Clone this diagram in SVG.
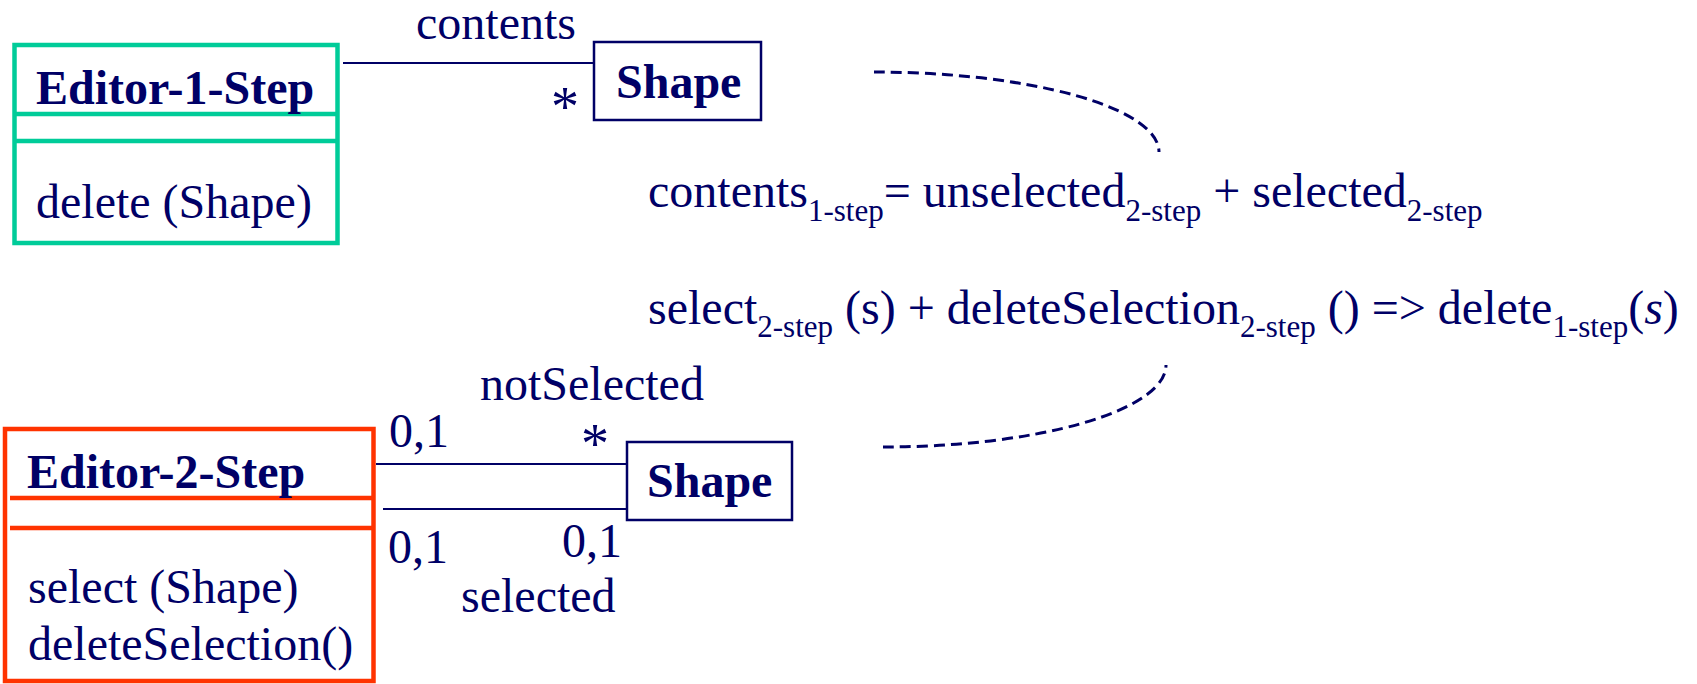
<svg xmlns="http://www.w3.org/2000/svg" width="1697" height="684" viewBox="0 0 1697 684">
  <style>
    text { font-family: "Liberation Serif", "Times New Roman", serif; font-size: 48px; fill: #000066; }
    .bold { font-weight: bold; }
    .sub { font-size: 31px; }
    .cls1 { fill: #ffffff; stroke: #00CC99; stroke-width: 4.5; }
    .cls1 line { stroke: #00CC99; stroke-width: 4.5; }
    .cls2 { fill: #ffffff; stroke: #FF3300; stroke-width: 4.5; }
    .cls2line { stroke: #FF3300; stroke-width: 4.5; }
    .shape { fill: #ffffff; stroke: #000066; stroke-width: 2.5; }
    .assoc { stroke: #000066; stroke-width: 2.2; fill: none; }
    .dash { stroke: #000066; stroke-width: 3; fill: none; stroke-dasharray: 11 6; }
    .star { font-size: 56px; }
  </style>

  <!-- one-step editor class -->
  <g id="editor-1-step">
    <rect class="cls1" x="14.5" y="45" width="323" height="198"/>
    <line x1="14.5" y1="114" x2="337.5" y2="114" stroke="#00CC99" stroke-width="4.5"/>
    <line x1="14.5" y1="141" x2="337.5" y2="141" stroke="#00CC99" stroke-width="4.5"/>
    <text class="bold" x="36" y="104">Editor-1-Step</text>
    <text x="36" y="218">delete (Shape)</text>
  </g>

  <!-- shape class, upper -->
  <g id="shape-1">
    <rect class="shape" x="594" y="42" width="167" height="78"/>
    <text class="bold" x="616" y="98">Shape</text>
  </g>

  <!-- two-step editor class -->
  <g id="editor-2-step">
    <rect class="cls2" x="5" y="429" width="368.5" height="252"/>
    <line class="cls2line" x1="10" y1="498" x2="373.5" y2="498"/>
    <line class="cls2line" x1="10" y1="528" x2="373.5" y2="528"/>
    <text class="bold" x="27" y="488">Editor-2-Step</text>
    <text x="28" y="603">select (Shape)</text>
    <text x="28" y="660">deleteSelection()</text>
  </g>

  <!-- shape class, lower -->
  <g id="shape-2">
    <rect class="shape" x="627" y="442" width="165" height="78"/>
    <text class="bold" x="647" y="497">Shape</text>
  </g>

  <!-- associations and correspondence links -->
  <g id="connectors">
    <line class="assoc" x1="343" y1="63" x2="594" y2="63"/>
    <line class="assoc" x1="376" y1="464" x2="627" y2="464"/>
    <line class="assoc" x1="383" y1="509" x2="627" y2="509"/>
    <path class="dash" d="M 874 72 A 285 80 0 0 1 1159 152"/>
    <path class="dash" d="M 883 447 A 283 82 0 0 0 1166 365"/>
  </g>

  <!-- association labels and multiplicities -->
  <g id="labels">
    <text x="416" y="39">contents</text>
    <text class="star" x="565" y="126" text-anchor="middle">*</text>
    <text x="480" y="400">notSelected</text>
    <text x="389" y="447">0,1</text>
    <text class="star" x="595" y="463" text-anchor="middle">*</text>
    <text x="388" y="563">0,1</text>
    <text x="562" y="557">0,1</text>
    <text x="461" y="612">selected</text>
  </g>

  <!-- mapping between the two designs -->
  <g id="equations">
    <text x="648" y="207">contents<tspan class="sub" dy="14">1-step</tspan><tspan dy="-14">= unselected</tspan><tspan class="sub" dy="14">2-step</tspan><tspan dy="-14"> + selected</tspan><tspan class="sub" dy="14">2-step</tspan></text>
    <text x="648" y="324">select<tspan class="sub" dy="13">2-step</tspan><tspan dy="-13"> (s) + deleteSelection</tspan><tspan class="sub" dy="13">2-step</tspan><tspan dy="-13"> () =&gt; delete</tspan><tspan class="sub" dy="13">1-step</tspan><tspan dy="-13">(</tspan><tspan font-style="italic">s</tspan><tspan>)</tspan></text>
  </g>
</svg>
